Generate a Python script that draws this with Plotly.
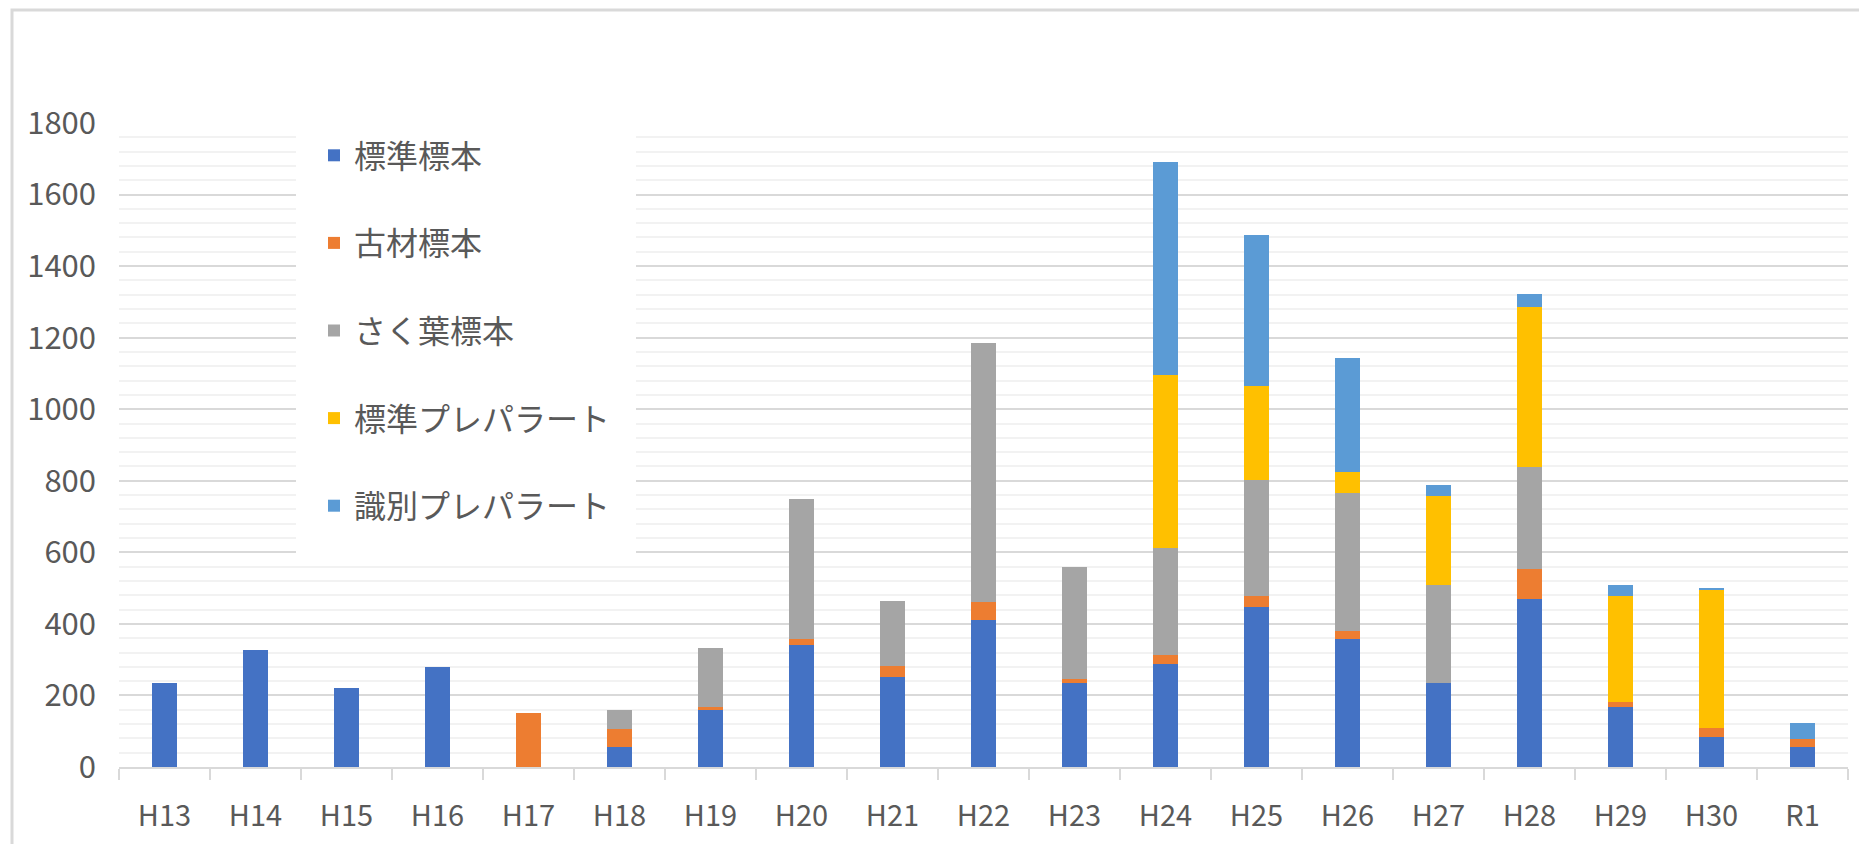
import plotly.graph_objects as go

categories = ["H13", "H14", "H15", "H16", "H17", "H18", "H19", "H20", "H21", "H22",
              "H23", "H24", "H25", "H26", "H27", "H28", "H29", "H30", "R1"]
standard_specimen = [235, 326, 220, 280, 0, 55, 158, 341, 251, 410, 236, 288, 447, 357, 235, 470, 168, 85, 56]
old_wood_specimen = [0, 0, 0, 0, 152, 51, 10, 16, 30, 52, 9, 24, 31, 22, 0, 84, 15, 23, 22]
herbarium_specimen = [0, 0, 0, 0, 0, 54, 165, 393, 182, 724, 315, 301, 324, 386, 273, 284, 0, 0, 0]
standard_slide = [0, 0, 0, 0, 0, 0, 0, 0, 0, 0, 0, 483, 264, 60, 249, 449, 294, 386, 0]
ident_slide = [0, 0, 0, 0, 0, 0, 0, 0, 0, 0, 0, 594, 422, 318, 30, 36, 31, 7, 45]

series_names = ["標準標本", "古材標本", "さく葉標本", "標準プレパラート", "識別プレパラート"]
series_values = [standard_specimen, old_wood_specimen, herbarium_specimen, standard_slide, ident_slide]
series_colors = ["#4472C4", "#ED7D31", "#A5A5A5", "#FFC000", "#5B9BD5"]

y_ticks = [0, 200, 400, 600, 800, 1000, 1200, 1400, 1600, 1800]

# page offset of the figure (browser body margin)
OFF = 8
W, H = 1867 - 2 * OFF, 852 - 2 * OFF
# plot area in page pixels
PL, PR, PT, PB = 119, 1848, 123, 767
L, T = PL - OFF, PT - OFF
R = W - (PR - OFF)
B = H - (PB - OFF)
FONT = "Noto Sans CJK JP"
TEXT = "#595959"

fig = go.Figure()
for name, vals, col in zip(series_names, series_values, series_colors):
    fig.add_trace(go.Bar(
        x=categories, y=vals, name=name, legendgroup=name,
        marker=dict(color=col, line=dict(width=0)),
    ))

pw = W - L - R
ph = H - T - B

def px_x(p):
    return (p - OFF - L) / pw

def px_y(p):
    return 1 - (p - OFF - T) / ph

fig.update_layout(
    width=W, height=H, autosize=False,
    barmode="stack", bargap=0.725,
    paper_bgcolor="white", plot_bgcolor="white",
    margin=dict(l=L, r=R, t=T, b=B),
    font=dict(family=FONT, color=TEXT, size=30),
    legend=dict(
        x=px_x(314), xanchor="left", y=px_y(128), yanchor="top",
        bgcolor="rgba(255,255,255,0)", borderwidth=0,
        font=dict(family=FONT, size=32, color=TEXT),
        traceorder="grouped", tracegroupgap=43,
        itemwidth=30,
    ),
    xaxis=dict(
        type="category", showline=True, linecolor="#D9D9D9", linewidth=2,
        ticks="outside", tickson="boundaries", ticklen=11, tickcolor="#D9D9D9",
        tickwidth=2, showgrid=False, ticklabelstandoff=22,
        tickfont=dict(family=FONT, size=29, color=TEXT),
    ),
    yaxis=dict(
        range=[0, 1800], tickvals=y_ticks, showline=False, zeroline=False,
        showgrid=True, gridcolor="#D9D9D9", gridwidth=2,
        minor=dict(dtick=40, showgrid=True, gridcolor="#F2F2F2", gridwidth=2),
        ticks="", ticklabelstandoff=22,
        tickfont=dict(family=FONT, size=31, color=TEXT),
    ),
    shapes=[
        dict(
            type="rect", xref="paper", yref="paper",
            x0=px_x(12), x1=px_x(1867 + 20), y0=px_y(852 + 20), y1=px_y(10),
            line=dict(color="#D9D9D9", width=3), fillcolor="rgba(0,0,0,0)", layer="below",
        ),
        dict(
            type="rect", xref="paper", yref="paper",
            x0=px_x(296), x1=px_x(636), y0=px_y(563), y1=px_y(113),
            line=dict(width=0), fillcolor="white", layer="above",
        ),
    ],
)

fig.write_html("out.html")
